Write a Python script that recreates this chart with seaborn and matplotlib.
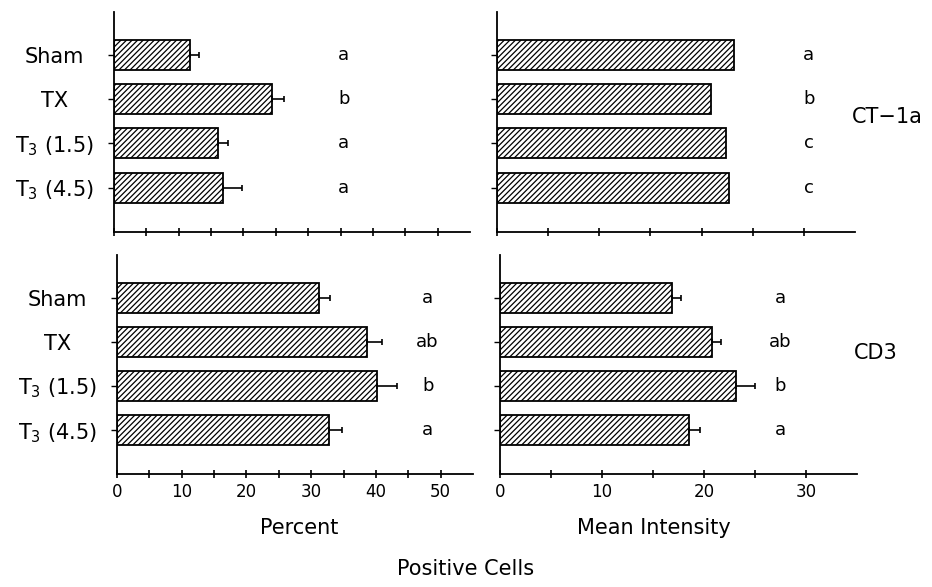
import seaborn as sns
import pandas as pd
import matplotlib
import matplotlib.pyplot as plt
matplotlib.use('Agg')

groups = ["Sham", "TX", "T$_3$ (1.5)", "T$_3$ (4.5)"]

# CT-1a
ct_percent = [11.8, 24.4, 16.0, 16.9]
ct_percent_err = [1.3, 1.9, 1.6, 2.8]
ct_percent_sig = ["a", "b", "a", "a"]
ct_intensity = [23.2, 20.9, 22.4, 22.7]
ct_intensity_err = [0.0, 0.0, 0.0, 0.0]
ct_intensity_sig = ["a", "b", "c", "c"]

# CD3
cd_percent = [31.2, 38.7, 40.2, 32.8]
cd_percent_err = [1.7, 2.2, 3.1, 2.0]
cd_percent_sig = ["a", "ab", "b", "a"]
cd_intensity = [16.9, 20.8, 23.1, 18.5]
cd_intensity_err = [0.8, 0.9, 1.9, 1.1]
cd_intensity_sig = ["a", "ab", "b", "a"]

sns.set_style("ticks", {"axes.edgecolor": "black", "text.color": "black",
                        "xtick.color": "black", "ytick.color": "black"})
plt.rcParams['font.family'] = ['DejaVu Sans']
plt.rcParams['hatch.linewidth'] = 0.9
plt.rcParams['hatch.color'] = 'black'


def draw_panel(ax, vals, errs, sig, xmax, major, sig_x, show_xlabels, show_ylabels):
    df = pd.DataFrame({"group": groups, "value": vals})
    sns.barplot(data=df, x="value", y="group", orient="h", color="white", saturation=1,
                edgecolor="black", linewidth=1.3, width=0.68, ax=ax)
    for p in ax.patches:
        p.set_hatch("//////")
    pos = list(range(len(groups)))
    has_err = [e > 0 for e in errs]
    if any(has_err):
        ax.errorbar([v for v, h in zip(vals, has_err) if h], [p for p, h in zip(pos, has_err) if h],
                    xerr=[[0] * sum(has_err), [e for e, h in zip(errs, has_err) if h]],
                    fmt="none", ecolor="black", elinewidth=1.2, capsize=2, capthick=1.2)
    for p, s in zip(pos, sig):
        ax.text(sig_x, p, s, ha="center", va="center", fontsize=13, color="black")
    ax.set_xlim(0, xmax)
    ax.set_ylim(4.0, -0.97)
    ax.set_xticks(range(0, xmax, major))
    ax.set_xticks(range(0, xmax, major // 2), minor=True)
    sns.despine(ax=ax)
    ax.spines["left"].set_linewidth(1.3)
    ax.spines["bottom"].set_linewidth(1.3)
    ax.tick_params(axis="x", which="both", direction="inout", length=6, width=1.2,
                   labelsize=12, colors="black")
    ax.tick_params(axis="y", direction="out", length=4, width=1.0, colors="black")
    if not show_xlabels:
        ax.tick_params(axis="x", which="both", labelbottom=False)
    if show_ylabels:
        ax.set_yticks(pos, groups)
        for lbl in ax.get_yticklabels():
            lbl.set_ha("center")
        ax.tick_params(axis="y", labelsize=15, pad=39)
    else:
        ax.set_yticks(pos, [""] * len(groups))
    ax.set_xlabel("")
    ax.set_ylabel("")


fig = plt.figure(figsize=(9.32, 5.87), dpi=100)
ax1 = fig.add_axes([0.1223, 0.6048, 0.382, 0.375])
ax2 = fig.add_axes([0.5333, 0.6048, 0.384, 0.375])
ax3 = fig.add_axes([0.1255, 0.1925, 0.382, 0.373])
ax4 = fig.add_axes([0.5365, 0.1925, 0.383, 0.373])

draw_panel(ax1, ct_percent, ct_percent_err, ct_percent_sig, 55, 10, 35.5, False, True)
draw_panel(ax2, ct_intensity, ct_intensity_err, ct_intensity_sig, 35, 10, 30.5, False, False)
draw_panel(ax3, cd_percent, cd_percent_err, cd_percent_sig, 55, 10, 48, True, True)
draw_panel(ax4, cd_intensity, cd_intensity_err, cd_intensity_sig, 35, 10, 27.5, True, False)

ax2.text(34.7, 1.4, "CT\u22121a", ha="left", va="center", fontsize=15, color="black", clip_on=False)
ax4.text(34.7, 1.25, "CD3", ha="left", va="center", fontsize=15, color="black", clip_on=False)

ax3.set_xlabel("Percent", fontsize=15, color="black")
ax3.xaxis.set_label_coords(0.513, -0.2)
ax4.set_xlabel("Mean Intensity", fontsize=15, color="black")
ax4.xaxis.set_label_coords(0.43, -0.2)
fig.text(0.5, 0.03, "Positive Cells", ha="center", va="center", fontsize=15, color="black")

fig.savefig("out.png", dpi=100)
